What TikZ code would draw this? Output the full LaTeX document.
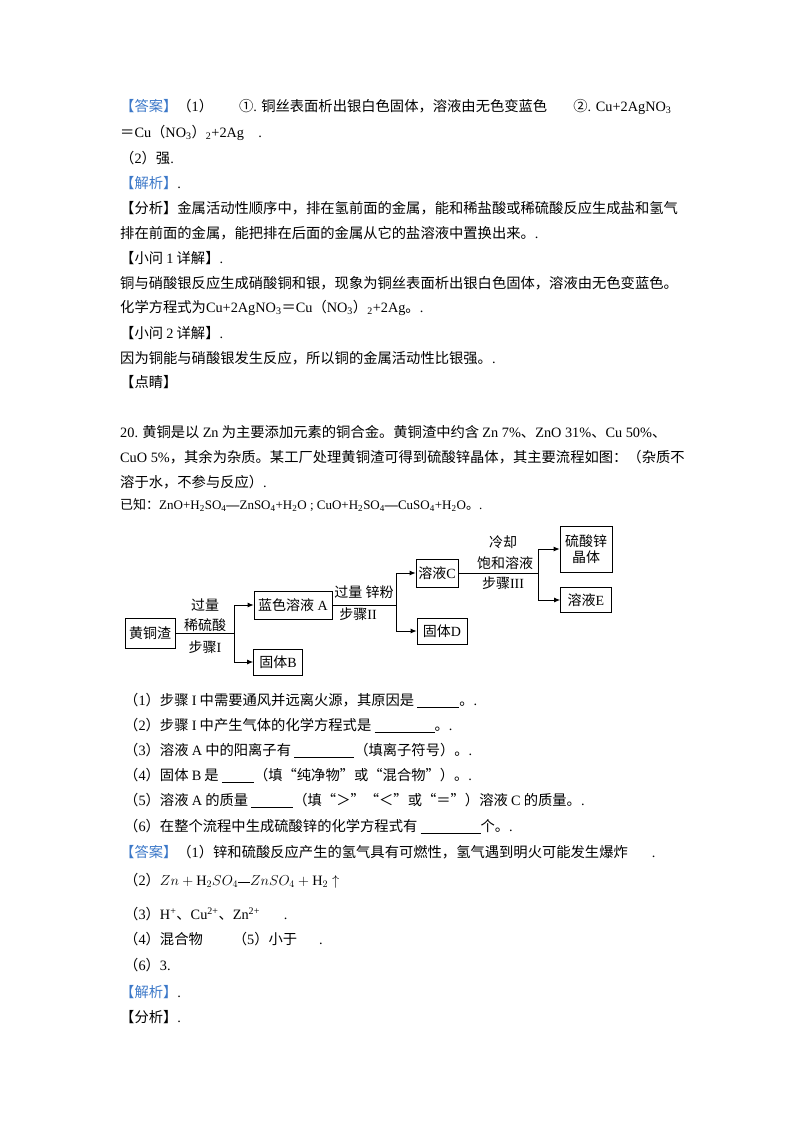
\documentclass[tikz,border=0pt]{standalone}
\usepackage{fontspec}
\setmainfont{Liberation Serif}
\newfontfamily\cjk{Noto Sans CJK SC}
\usetikzlibrary{arrows.meta}
\definecolor{hdblue}{RGB}{60,120,200}
\newcommand\E[1]{{\rmfamily #1}}
\newcommand\bl[1]{\textcolor{hdblue}{【#1】}}
\newcommand\blank[1]{\rule[-2pt]{#1pt}{0.6pt}}
\newcommand\sub[1]{\textsubscript{#1}}
\tikzset{
 txt/.style={anchor=west,inner sep=0pt,font=\cjk\fontsize{14.3}{16}\selectfont},
 box/.style={draw,line width=0.8pt,inner sep=2pt,font=\cjk\fontsize{14}{16}\selectfont,align=center},
 lab/.style={inner sep=0pt,font=\cjk\fontsize{14}{16}\selectfont,align=center},
 arr/.style={line width=0.8pt,-{Latex[length=6pt,width=5pt]}},
 ln/.style={line width=0.8pt}
}
\begin{document}
\begin{tikzpicture}[x=1pt,y=-1pt]
\useasboundingbox (0,0) rectangle (800,1132);
\node[txt] (t1) at (120,107) {\bl{答案}（\E{1}）\hspace{26pt}①\E{.} 铜丝表面析出银白色固体，溶液由无色变蓝色\hspace{26pt}②\E{. Cu+2AgNO\sub{3}}};
\node[txt] (t2) at (120,133) {＝\E{Cu}（\E{NO\sub{3}}）\E{\sub{2}+2Ag\quad.}};
\node[txt] (t3) at (120,158) {（\E{2}）强\E{.}};
\node[txt] (t4) at (120,183) {\bl{解析}\E{.}};
\node[txt] (t5) at (120,208) {【分析】金属活动性顺序中，排在氢前面的金属，能和稀盐酸或稀硫酸反应生成盐和氢气};
\node[txt] (t6) at (120,233) {排在前面的金属，能把排在后面的金属从它的盐溶液中置换出来。\E{.}};
\node[txt] (t7) at (120,258) {【小问 \E{1} 详解】\E{.}};
\node[txt] (t8) at (120,283) {铜与硝酸银反应生成硝酸铜和银，现象为铜丝表面析出银白色固体，溶液由无色变蓝色。};
\node[txt] (t9) at (120,308) {化学方程式为\E{Cu+2AgNO\sub{3}}＝\E{Cu}（\E{NO\sub{3}}）\E{\sub{2}+2Ag}。\E{.}};
\node[txt] (t10) at (120,333) {【小问 \E{2} 详解】\E{.}};
\node[txt] (t11) at (120,358) {因为铜能与硝酸银发生反应，所以铜的金属活动性比银强。\E{.}};
\node[txt] (t12) at (120,382) {【点睛】};
\node[txt] (t13) at (120,432) {\E{20.} 黄铜是以 \E{Zn} 为主要添加元素的铜合金。黄铜渣中约含 \E{Zn 7\%}、\E{ZnO 31\%}、\E{Cu 50\%}、};
\node[txt] (t14) at (120,457) {\E{CuO 5\%}，其余为杂质。某工厂处理黄铜渣可得到硫酸锌晶体，其主要流程如图：（杂质不};
\node[txt] (t15) at (120,482) {溶于水，不参与反应）\E{.}};
\node[txt] (t16) at (120,505) {\fontsize{13}{15}\selectfont 已知：\E{ZnO+H\sub{2}SO\sub{4}\textbf{—}ZnSO\sub{4}+H\sub{2}O ; CuO+H\sub{2}SO\sub{4}\textbf{—}CuSO\sub{4}+H\sub{2}O}。\E{.}};
% diagram
\node[box,minimum width=50pt,minimum height=30pt] (hz) at (150,633) {黄铜渣};
\node[box,minimum width=78pt,minimum height=28pt] (A) at (293,605) {蓝色溶液\E{ A}};
\node[box,minimum width=49pt,minimum height=26pt] (B) at (278,662) {固体\E{B}};
\node[box,minimum width=42pt,minimum height=28pt] (C) at (437,573) {溶液\E{C}};
\node[box,minimum width=50pt,minimum height=26pt] (D) at (442,631) {固体\E{D}};
\node[box,minimum width=52pt,minimum height=46pt,inner sep=1pt] (Z) at (586,549) {硫酸锌\\晶体};
\node[box,minimum width=51pt,minimum height=25pt] (Es) at (586,600) {溶液\E{E}};
\coordinate (j1) at (234,633);
\coordinate (j2) at (396,605);
\coordinate (j3) at (538,573);
\draw[ln] (hz.east) -- (j1);
\draw[arr] (j1) |- (A.west);
\draw[arr] (j1) |- (B.west);
\draw[ln] (A.east) -- (j2);
\draw[arr] (j2) |- (C.west);
\draw[arr] (j2) |- (D.west);
\draw[ln] (C.east) -- (j3);
\draw[arr] (j3) |- (Z.west);
\draw[arr] (j3) |- (Es.west);
\node[lab] (l1) at (205,605) {过量};
\node[lab] (l2) at (205,625) {稀硫酸};
\node[lab] (l3) at (205,647) {步骤\E{I}};
\node[lab] (l4) at (364,592) {过量 锌粉};
\node[lab] (l5) at (358,614) {步骤\E{II}};
\node[lab] (l6) at (503,542) {冷却};
\node[lab] (l7) at (505,563) {饱和溶液};
\node[lab] (l8) at (503,583) {步骤\E{III}};
% questions
\node[txt] (q1) at (124,700) {（\E{1}）步骤 \E{I} 中需要通风并远离火源，其原因是 \blank{42}。\E{.}};
\node[txt] (q2) at (124,725) {（\E{2}）步骤 \E{I} 中产生气体的化学方程式是 \blank{60}。\E{.}};
\node[txt] (q3) at (124,750) {（\E{3}）溶液 \E{A} 中的阳离子有 \blank{60}（填离子符号）。\E{.}};
\node[txt] (q4) at (124,775) {（\E{4}）固体 \E{B} 是 \blank{32}（填“纯净物”或“混合物”）。\E{.}};
\node[txt] (q5) at (124,800) {（\E{5}）溶液 \E{A} 的质量 \blank{42}（填“＞”“＜”或“＝”）溶液 \E{C} 的质量。\E{.}};
\node[txt] (q6) at (124,826) {（\E{6}）在整个流程中生成硫酸锌的化学方程式有 \blank{60}个。\E{.}};
% answers
\node[txt] (a1) at (120,852) {\bl{答案}（\E{1}）锌和硫酸反应产生的氢气具有可燃性，氢气遇到明火可能发生爆炸\hspace{24pt}\E{.}};
\node[txt] (a2) at (124,881) {（\E{2}）$Zn+\mathrm{H}_2SO_4$\rule[3pt]{12pt}{1.2pt}$ZnSO_4+\mathrm{H}_2\uparrow$};
\node[txt] (a3) at (124,914) {（\E{3}）\E{H\textsuperscript{+}}、\E{Cu\textsuperscript{2+}}、\E{Zn\textsuperscript{2+}}\hspace{24pt}\E{.}};
\node[txt] (a4) at (124,939) {（\E{4}）混合物\hspace{30pt}（\E{5}）小于\hspace{22pt}\E{.}};
\node[txt] (a5) at (124,965) {（\E{6}）\E{3.}};
\node[txt] (a6) at (120,992) {\bl{解析}\E{.}};
\node[txt] (a7) at (120,1017) {【分析】\E{.}};
\end{tikzpicture}
\end{document}
